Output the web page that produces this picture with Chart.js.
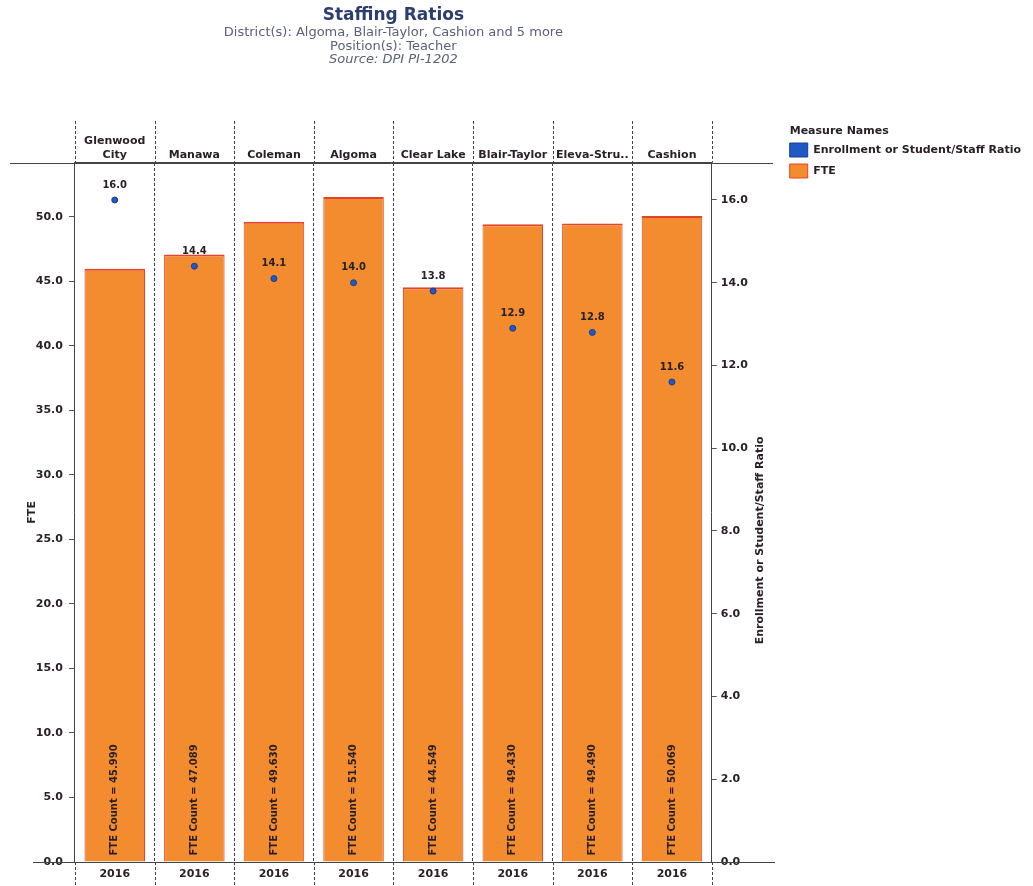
<!DOCTYPE html>
<html><head><meta charset="utf-8">
<script src="https://cdn.jsdelivr.net/npm/chart.js@4/dist/chart.umd.min.js"></script>
<style>html,body{margin:0;padding:0;background:#fff;}canvas{display:block;}</style>
</head><body>
<canvas id="c" width="1033" height="886"></canvas>
<script>
const districts = [['Glenwood', 'City'], 'Manawa', 'Coleman', 'Algoma', 'Clear Lake', 'Blair-Taylor', 'Eleva-Stru..', 'Cashion'];
const years = ['2016', '2016', '2016', '2016', '2016', '2016', '2016', '2016'];
const fteValues = [45.990, 47.089, 49.630, 51.540, 44.549, 49.430, 49.490, 50.069];
const ratioValues = [16.0, 14.4, 14.1, 14.0, 13.8, 12.9, 12.8, 11.6];
const titleText = 'Staffing Ratios';
const subtitleLines = ['District(s): Algoma, Blair-Taylor, Cashion and 5 more', 'Position(s): Teacher'];
const sourceLine = 'Source: DPI PI-1202';
const fteAxisTitle = 'FTE';
const ratioAxisTitle = 'Enrollment or Student/Staff Ratio';
const legendTitle = 'Measure Names';

const FONT = "'DejaVu Sans', 'Verdana', sans-serif";
const TXT = '#2a2028';
const LINE = '#444';
const SUB_LH = 13.5;
const SUB_PT = 0.85;

const annot = {
  id: 'annot',
  afterDatasetsDraw(chart) {
    const ctx = chart.ctx;
    ctx.save();
    ctx.font = 'bold 10px ' + FONT;
    ctx.fillStyle = TXT;
    ctx.textBaseline = 'middle';
    ctx.textAlign = 'left';
    chart.getDatasetMeta(1).data.forEach((bar, i) => {
      ctx.save();
      ctx.translate(bar.x, bar.base - 6);
      ctx.rotate(-Math.PI / 2);
      ctx.fillText('FTE Count = ' + fteValues[i].toFixed(3), 0, 0);
      ctx.restore();
    });
    ctx.textAlign = 'center';
    chart.getDatasetMeta(0).data.forEach((pt, i) => {
      ctx.fillText(ratioValues[i].toFixed(1), pt.x, pt.y - 15);
    });
    ctx.restore();
  },
  afterDraw(chart) {
    const ctx = chart.ctx;
    const ca = chart.chartArea;
    const xs = chart.scales.x;
    ctx.save();
    // column separators in header and footer rows
    ctx.strokeStyle = LINE;
    ctx.lineWidth = 1;
    ctx.setLineDash([3, 2]);
    ctx.beginPath();
    for (let i = 0; i <= districts.length; i++) {
      const px = Math.round(xs.getPixelForValue(i - 0.5)) + 0.5;
      ctx.moveTo(px, 121);
      ctx.lineTo(px, ca.top);
      ctx.moveTo(px, ca.bottom);
      ctx.lineTo(px, chart.height);
    }
    ctx.stroke();
    ctx.setLineDash([]);
    // extended header / base rules
    ctx.beginPath();
    ctx.moveTo(10, Math.round(ca.top) + 0.5);
    ctx.lineTo(773, Math.round(ca.top) + 0.5);
    ctx.moveTo(33, Math.round(ca.bottom) + 0.5);
    ctx.lineTo(775, Math.round(ca.bottom) + 0.5);
    ctx.stroke();
    // source line (italic) under subtitle
    const tb = chart.titleBlock;
    ctx.font = 'italic 13px ' + FONT;
    ctx.fillStyle = '#5b6178';
    ctx.textAlign = 'center';
    ctx.textBaseline = 'middle';
    ctx.fillText(sourceLine, (ca.left + ca.right) / 2, tb.bottom + SUB_PT + SUB_LH * 2 + SUB_LH / 2);
    // right axis title, reading bottom to top
    const s = chart.scales.y2;
    ctx.font = 'bold 11px ' + FONT;
    ctx.fillStyle = TXT;
    ctx.save();
    ctx.translate(s.right - 16.4 - 6.6, (s.top + s.bottom) / 2 + 28);
    ctx.rotate(-Math.PI / 2);
    ctx.fillText(ratioAxisTitle, 0, 0);
    ctx.restore();
    // legend title
    const lg = chart.legend;
    ctx.textAlign = 'left';
    ctx.fillText(legendTitle, lg.left + 7, lg.top + 124.4 + 6.6);
    ctx.restore();
  }
};

new Chart(document.getElementById('c'), {
  type: 'bar',
  data: {
    labels: districts,
    datasets: [
      {
        type: 'line',
        label: 'Enrollment or Student/Staff Ratio',
        data: ratioValues,
        xAxisID: 'x',
        yAxisID: 'y2',
        showLine: false,
        pointRadius: 3,
        pointHoverRadius: 3,
        pointBorderWidth: 1,
        borderWidth: 1,
        backgroundColor: '#2159c4',
        borderColor: '#163f93'
      },
      {
        type: 'bar',
        label: 'FTE',
        data: fteValues,
        xAxisID: 'x',
        yAxisID: 'y',
        backgroundColor: '#f28c2e',
        borderColor: '#e8412b',
        borderWidth: {top: 2, left: 1, right: 1, bottom: 0},
        barPercentage: 0.76,
        categoryPercentage: 1
      }
    ]
  },
  options: {
    responsive: false,
    animation: false,
    layout: {padding: {left: 5, right: 2, top: 0, bottom: 0}},
    scales: {
      x: {
        type: 'category',
        position: 'top',
        offset: true,
        grid: {offset: true, color: '#444', lineWidth: 1, drawTicks: false, drawOnChartArea: true},
        border: {display: true, color: LINE, dash: [3, 2]},
        ticks: {color: TXT, font: {family: FONT, size: 11, weight: 'bold'}, padding: 1.4, maxRotation: 0, minRotation: 0, autoSkip: false}
      },
      x2: {
        type: 'category',
        position: 'bottom',
        labels: years,
        offset: true,
        grid: {offset: true, color: '#444', lineWidth: 1, drawTicks: false, drawOnChartArea: false},
        border: {display: true, color: LINE},
        ticks: {color: TXT, font: {family: FONT, size: 11, weight: 'bold'}, padding: 5.4, maxRotation: 0, minRotation: 0, autoSkip: false}
      },
      y: {
        position: 'left',
        min: 0,
        max: 54.2,
        grid: {drawOnChartArea: false, tickLength: 6, color: '#555'},
        border: {display: true, color: LINE},
        ticks: {stepSize: 5, includeBounds: false, color: TXT, font: {family: FONT, size: 11, weight: 'bold'}, padding: 6, callback: v => Number(v).toFixed(1)},
        title: {display: true, text: fteAxisTitle, color: TXT, font: {family: FONT, size: 11, weight: 'bold'}, padding: {top: 20.4, bottom: -8.8}}
      },
      y2: {
        position: 'right',
        min: 0,
        max: 16.9,
        grid: {drawOnChartArea: false, tickLength: 5, color: '#555'},
        border: {display: true, color: LINE},
        ticks: {stepSize: 2, includeBounds: false, color: TXT, font: {family: FONT, size: 11, weight: 'bold'}, padding: 4, callback: v => Number(v).toFixed(1)},
        title: {display: true, text: ratioAxisTitle, color: 'rgba(0,0,0,0)', font: {family: FONT, size: 11, weight: 'bold'}, padding: {top: 16.4, bottom: 1.2}}
      }
    },
    plugins: {
      title: {
        display: true, text: titleText, fullSize: false,
        color: '#2c3e70', font: {family: FONT, size: 17, weight: 'bold', lineHeight: 1.2},
        padding: {top: 5, bottom: 0}
      },
      subtitle: {
        display: true, text: subtitleLines.concat(['']), fullSize: false,
        color: '#5b6178', font: {family: FONT, size: 13, lineHeight: SUB_LH + 'px'},
        padding: {top: SUB_PT, bottom: 66.8}
      },
      legend: {
        position: 'right', align: 'start', fullSize: true, maxWidth: 300,
        title: {display: true, text: legendTitle, color: 'rgba(0,0,0,0)', font: {family: FONT, size: 11, weight: 'bold'}, padding: {top: 124.4, bottom: -1.6}},
        labels: {boxWidth: 18, boxHeight: 14, padding: 7, color: TXT, font: {family: FONT, size: 11, weight: 'bold'}}
      },
      tooltip: {enabled: false}
    }
  },
  plugins: [annot]
});
</script>
</body></html>
